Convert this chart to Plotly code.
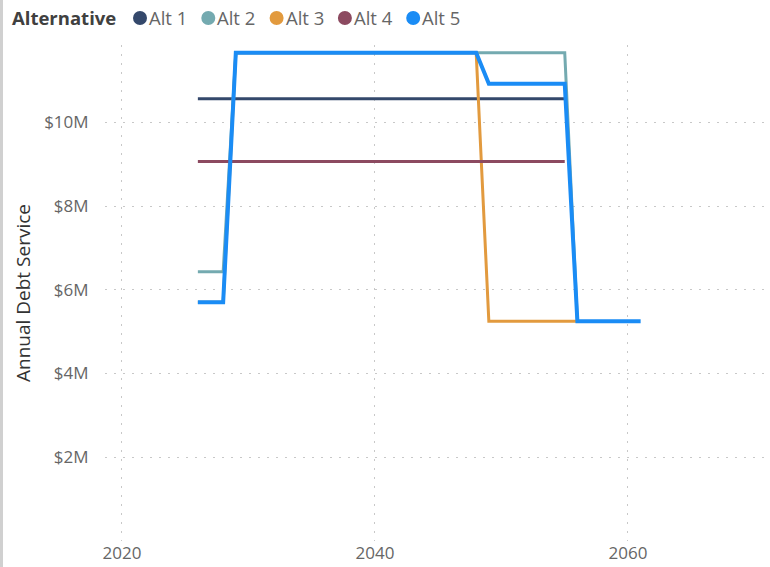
import plotly.graph_objects as go

# ---- data (values in $M) ----
series_names = ["Alt 1", "Alt 2", "Alt 3", "Alt 4", "Alt 5"]

alt1_years = [2026, 2027, 2028, 2029, 2030, 2031, 2032, 2033, 2034, 2035, 2036, 2037, 2038, 2039, 2040,
              2041, 2042, 2043, 2044, 2045, 2046, 2047, 2048, 2049, 2050, 2051, 2052, 2053, 2054, 2055]
alt1_values = [10.56, 10.56, 10.56, 10.56, 10.56, 10.56, 10.56, 10.56, 10.56, 10.56, 10.56, 10.56, 10.56, 10.56, 10.56,
               10.56, 10.56, 10.56, 10.56, 10.56, 10.56, 10.56, 10.56, 10.56, 10.56, 10.56, 10.56, 10.56, 10.56, 10.56]

alt2_years = [2026, 2027, 2028, 2029, 2030, 2031, 2032, 2033, 2034, 2035, 2036, 2037, 2038, 2039, 2040,
              2041, 2042, 2043, 2044, 2045, 2046, 2047, 2048, 2049, 2050, 2051, 2052, 2053, 2054, 2055, 2056]
alt2_values = [6.43, 6.43, 6.43, 11.66, 11.66, 11.66, 11.66, 11.66, 11.66, 11.66, 11.66, 11.66, 11.66, 11.66, 11.66,
               11.66, 11.66, 11.66, 11.66, 11.66, 11.66, 11.66, 11.66, 11.66, 11.66, 11.66, 11.66, 11.66, 11.66, 11.66, 5.25]

alt3_years = [2026, 2027, 2028, 2029, 2030, 2031, 2032, 2033, 2034, 2035, 2036, 2037, 2038, 2039, 2040,
              2041, 2042, 2043, 2044, 2045, 2046, 2047, 2048, 2049, 2050, 2051, 2052, 2053, 2054, 2055, 2056]
alt3_values = [5.70, 5.70, 5.70, 11.66, 11.66, 11.66, 11.66, 11.66, 11.66, 11.66, 11.66, 11.66, 11.66, 11.66, 11.66,
               11.66, 11.66, 11.66, 11.66, 11.66, 11.66, 11.66, 11.66, 5.25, 5.25, 5.25, 5.25, 5.25, 5.25, 5.25, 5.25]

alt4_years = [2026, 2027, 2028, 2029, 2030, 2031, 2032, 2033, 2034, 2035, 2036, 2037, 2038, 2039, 2040,
              2041, 2042, 2043, 2044, 2045, 2046, 2047, 2048, 2049, 2050, 2051, 2052, 2053, 2054, 2055]
alt4_values = [9.06, 9.06, 9.06, 9.06, 9.06, 9.06, 9.06, 9.06, 9.06, 9.06, 9.06, 9.06, 9.06, 9.06, 9.06,
               9.06, 9.06, 9.06, 9.06, 9.06, 9.06, 9.06, 9.06, 9.06, 9.06, 9.06, 9.06, 9.06, 9.06, 9.06]

alt5_years = [2026, 2027, 2028, 2029, 2030, 2031, 2032, 2033, 2034, 2035, 2036, 2037, 2038, 2039, 2040,
              2041, 2042, 2043, 2044, 2045, 2046, 2047, 2048, 2049, 2050, 2051, 2052, 2053, 2054, 2055,
              2056, 2057, 2058, 2059, 2060, 2061]
alt5_values = [5.70, 5.70, 5.70, 11.66, 11.66, 11.66, 11.66, 11.66, 11.66, 11.66, 11.66, 11.66, 11.66, 11.66, 11.66,
               11.66, 11.66, 11.66, 11.66, 11.66, 11.66, 11.66, 11.66, 10.92, 10.92, 10.92, 10.92, 10.92, 10.92, 10.92,
               5.25, 5.25, 5.25, 5.25, 5.25, 5.25]

y_tick_values = [2, 4, 6, 8, 10]
y_tick_labels = ["$2M", "$4M", "$6M", "$8M", "$10M"]
x_tick_values = [2020, 2040, 2060]
legend_title = "Alternative"
y_title = "Annual Debt Service"

colors = ["#34486B", "#74AAB0", "#E29A3E", "#8C4A60", "#1A8CF5"]
widths = [3, 3, 3, 3, 4]

all_years = [alt1_years, alt2_years, alt3_years, alt4_years, alt5_years]
all_values = [alt1_values, alt2_values, alt3_values, alt4_values, alt5_values]

FONT = "Segoe UI, Open Sans, sans-serif"

W, H = 770, 567
ML, MR, MT, MB = 105, 5, 45, 26
PW, PH = W - ML - MR, H - MT - MB


def px_x(p):  # pixel -> paper x
    return (p - ML) / PW


def px_y(p):  # pixel -> paper y
    return (H - MB - p) / PH


fig = go.Figure()
for name, xs, ys, c, w in zip(series_names, all_years, all_values, colors, widths):
    fig.add_trace(go.Scatter(
        x=xs, y=[v * 1e6 for v in ys], mode="lines", name=name,
        line=dict(color=c, width=w), showlegend=False,
    ))

# custom legend row (title + circle + label)
annotations = [dict(
    xref="paper", yref="paper", x=px_x(10), y=px_y(18), xanchor="left", yanchor="middle",
    text="<b>%s</b>" % legend_title, showarrow=False,
    font=dict(family=FONT, size=18.5, color="#404040"),
)]
shapes = []
legend_start, legend_step = 140, 68.3
for i, (name, c) in enumerate(zip(series_names, colors)):
    cx = legend_start + i * legend_step
    shapes.append(dict(
        type="circle", xref="paper", yref="paper", xsizemode="pixel", ysizemode="pixel",
        xanchor=px_x(cx), yanchor=px_y(18), x0=-7, x1=7, y0=-7, y1=7,
        fillcolor=c, line=dict(width=0),
    ))
    annotations.append(dict(
        xref="paper", yref="paper", x=px_x(cx + 7), y=px_y(18), xanchor="left", yanchor="middle",
        text=name, showarrow=False, font=dict(family=FONT, size=18.5, color="#666666"),
    ))

# left visual border
shapes.append(dict(type="line", xref="paper", yref="paper", x0=px_x(1.5), x1=px_x(1.5), y0=px_y(567), y1=px_y(0),
                   line=dict(color="#D0D0D0", width=3)))

fig.update_layout(
    width=W, height=H,
    margin=dict(l=ML, r=MR, t=MT, b=MB, autoexpand=False),
    paper_bgcolor="white", plot_bgcolor="white",
    font=dict(family=FONT, color="#666666", size=17),
    showlegend=False,
    xaxis=dict(
        range=[2018.66, 2070.83], tickvals=x_tick_values, automargin=False,
        showgrid=True, gridcolor="#C8C8C8", griddash="2px,7px", gridwidth=1,
        zeroline=False, showline=False, ticks="",
        tickfont=dict(size=17, color="#666666"),
    ),
    yaxis=dict(
        range=[0, 11.845e6], automargin=False,
        tickvals=[v * 1e6 for v in y_tick_values], ticktext=y_tick_labels,
        showgrid=True, gridcolor="#C8C8C8", griddash="2px,7px", gridwidth=1,
        zeroline=False, showline=False,
        ticks="outside", ticklen=12, tickcolor="rgba(0,0,0,0)",
        tickfont=dict(size=17, color="#666666"),
        title=dict(text=y_title, font=dict(size=19, color="#333333"), standoff=8),
    ),
    annotations=annotations,
    shapes=shapes,
)

fig.write_html("out.html", config={"displayModeBar": False},
               post_script="document.body.style.margin='0';document.body.style.padding='0';")
